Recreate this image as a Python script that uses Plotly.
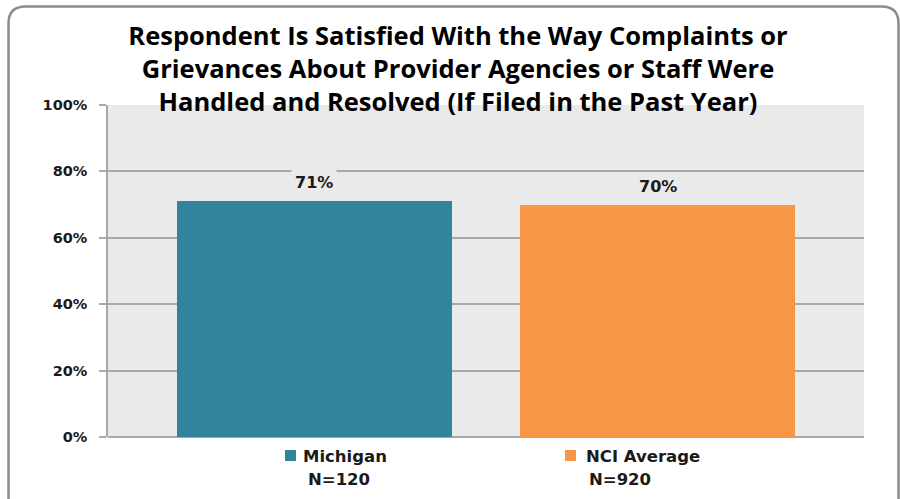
import plotly.graph_objects as go

# Chart data
groups = ["Michigan", "NCI Average"]
sample_sizes = ["N=120", "N=920"]
pct_satisfied = [71, 70]
bar_colors = ["#31849B", "#F79646"]
y_ticks = [0, 20, 40, 60, 80, 100]
y_tick_labels = ["0%", "20%", "40%", "60%", "80%", "100%"]

W, H = 900, 499
L, R, T, B = 108, 36, 105, 62
PW, PH = W - L - R, H - T - B

PLOT_BG = "#EAEAEA"
GRID = "#A8A8A8"
TICK_FONT = dict(family="DejaVu Sans, Verdana, sans-serif", size=14.5, color="#1A1A1A")
VALUE_FONT = dict(family="DejaVu Sans, Verdana, sans-serif", size=16, color="#1A1A1A")


def px_x(px):
    return (px - L) / PW


def px_y(py):
    return (H - B - py) / PH


fig = go.Figure()

xpos = list(range(len(groups)))
fig.add_trace(go.Bar(
    x=xpos,
    y=pct_satisfied,
    marker=dict(color=bar_colors, line=dict(width=0)),
    width=0.802,
    showlegend=False,
    hoverinfo="skip",
))

# Value labels above each bar, backed by the plot colour so gridlines break around them
for xi, v in zip(xpos, pct_satisfied):
    fig.add_annotation(
        x=xi, y=v, xref="x", yref="y",
        text=f"<b>{v}%</b>", showarrow=False,
        yanchor="bottom", yshift=5,
        font=VALUE_FONT, bgcolor=PLOT_BG, borderpad=3,
    )

# Legend entries: colour swatch, group name and sample size
legend_items = [
    dict(sq=285, text_x=301, n_center=339),
    dict(sq=565, text_x=584, n_center=620),
]
LEG_FONT = dict(family="DejaVu Sans, Verdana, sans-serif", size=16.5, color="#1A1A1A")
for item, name, n, col in zip(legend_items, groups, sample_sizes, bar_colors):
    fig.add_shape(
        type="rect", xref="paper", yref="paper",
        x0=px_x(item["sq"]), x1=px_x(item["sq"] + 11),
        y0=px_y(461), y1=px_y(450),
        fillcolor=col, line=dict(width=0),
    )
    fig.add_annotation(
        x=px_x(item["text_x"]), y=px_y(456), xref="paper", yref="paper",
        text=f"<b>{name}</b>", showarrow=False,
        xanchor="left", yanchor="middle", font=LEG_FONT,
    )
    fig.add_annotation(
        x=px_x(item["n_center"]), y=px_y(479), xref="paper", yref="paper",
        text=f"<b>{n}</b>", showarrow=False,
        xanchor="center", yanchor="middle", font=LEG_FONT,
    )

# Rounded outer frame around the whole chart
x0, x1, y0, y1, r = 8.5, 898.5, 6.5, 520, 17
pts = [
    f"M {px_x(x0)},{px_y(y1)}",
    f"L {px_x(x0)},{px_y(y0 + r)}",
    f"Q {px_x(x0)},{px_y(y0)} {px_x(x0 + r)},{px_y(y0)}",
    f"L {px_x(x1 - r)},{px_y(y0)}",
    f"Q {px_x(x1)},{px_y(y0)} {px_x(x1)},{px_y(y0 + r)}",
    f"L {px_x(x1)},{px_y(y1)}",
]
fig.add_shape(
    type="path", xref="paper", yref="paper", path=" ".join(pts),
    line=dict(color="#8C8C8C", width=2.5), layer="above",
)

fig.update_layout(
    width=W, height=H,
    margin=dict(l=L, r=R, t=T, b=B, pad=0),
    paper_bgcolor="white",
    plot_bgcolor=PLOT_BG,
    title=dict(
        text="<b>Respondent Is Satisfied With the Way Complaints or<br>"
             "Grievances About Provider Agencies or Staff Were<br>"
             "Handled and Resolved (If Filed in the Past Year)</b>",
        x=458 / W, xanchor="center", xref="container",
        y=1 - 45 / H, yanchor="middle", yref="container",
        font=dict(family="Open Sans, sans-serif", size=25.5, color="#000000"),
    ),
    xaxis=dict(
        range=[-0.602, 1.602],
        showticklabels=False, showgrid=False, zeroline=False,
        showline=False, ticks="", fixedrange=True,
    ),
    yaxis=dict(
        range=[0, 100],
        tickvals=y_ticks, ticktext=[f"<b>{t}</b>" for t in y_tick_labels],
        tickfont=TICK_FONT,
        showgrid=True, gridcolor=GRID, gridwidth=2,
        zeroline=True, zerolinecolor=GRID, zerolinewidth=2,
        showline=True, linecolor=GRID, linewidth=1.5,
        ticks="outside", ticklen=7, tickcolor=GRID, tickwidth=1.5,
        ticklabelstandoff=9,
    ),
    bargap=0,
)

fig.write_html("out.html")
